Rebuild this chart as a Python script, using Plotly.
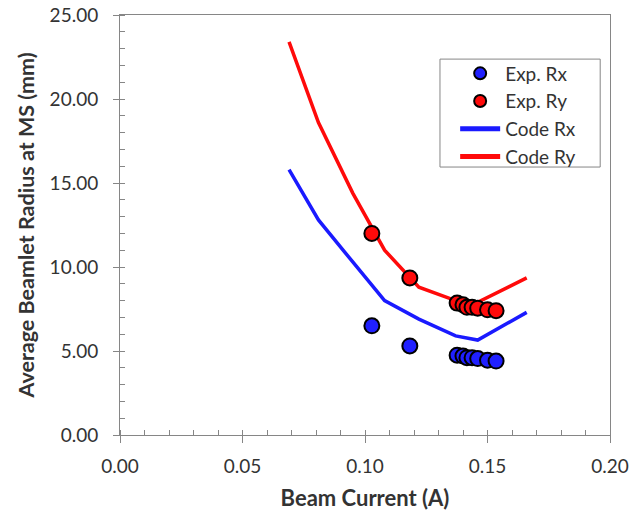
import plotly.graph_objects as go

# Experimental data
exp_current = [0.1028, 0.1183, 0.1376, 0.1400, 0.1416, 0.1437, 0.1460, 0.1500, 0.1535]
exp_rx = [6.50, 5.30, 4.75, 4.70, 4.60, 4.60, 4.55, 4.45, 4.40]
exp_ry = [12.00, 9.35, 7.85, 7.75, 7.60, 7.60, 7.55, 7.45, 7.40]

# Code (simulation) data
code_current = [0.069, 0.081, 0.095, 0.108, 0.122, 0.137, 0.146, 0.166]
code_rx = [15.8, 12.8, 10.3, 8.0, 6.9, 5.9, 5.65, 7.3]
code_ry = [23.4, 18.6, 14.4, 11.0, 8.8, 8.0, 7.9, 9.35]

FONT = "Lato"
TXT = "#333333"
AX = "#868686"

fig = go.Figure()

fig.add_trace(go.Scatter(x=code_current, y=code_rx, mode="lines", name="Code Rx",
                         line=dict(color="#1a1aff", width=3.5), legendrank=3))
fig.add_trace(go.Scatter(x=code_current, y=code_ry, mode="lines", name="Code Ry",
                         line=dict(color="#ff0a0a", width=3.5), legendrank=4))
fig.add_trace(go.Scatter(x=exp_current, y=exp_rx, mode="markers", name="Exp. Rx",
                         marker=dict(color="#2020ff", size=15, line=dict(color="black", width=2)),
                         legendrank=1))
fig.add_trace(go.Scatter(x=exp_current, y=exp_ry, mode="markers", name="Exp. Ry",
                         marker=dict(color="#ff0a0a", size=15, line=dict(color="black", width=2)),
                         legendrank=2))

fig.update_layout(
    width=630, height=512,
    margin=dict(l=120, r=20, t=15, b=77),
    paper_bgcolor="white", plot_bgcolor="white",
    font=dict(family=FONT, size=18, color=TXT),
    showlegend=True,
    legend=dict(x=0.684, y=0.906, xanchor="left", yanchor="top",
                borderwidth=0, bgcolor="rgba(0,0,0,0)",
                font=dict(family=FONT, size=19, color=TXT),
                itemwidth=40, itemsizing="constant"),
    shapes=[dict(type="rect", xref="paper", yref="paper",
                 x0=0.653, x1=0.98, y0=0.638, y1=0.895,
                 line=dict(color=AX, width=1), fillcolor="rgba(0,0,0,0)", layer="above")],
)

fig.update_xaxes(
    range=[0, 0.20], dtick=0.05, tickformat=".2f", automargin=False,
    showgrid=False, zeroline=False, ticklabeloverflow="allow",
    showline=True, linecolor=AX, linewidth=1, mirror=True,
    ticks="outside", ticklen=7, tickcolor=AX, ticklabelstandoff=7,
    minor=dict(dtick=0.01, ticks="inside", ticklen=5, tickcolor=AX, showgrid=False),
    tickfont=dict(family=FONT, size=19, color=TXT),
    title=dict(text="<b>Beam Current (A)</b>", font=dict(family=FONT, size=22, color=TXT), standoff=14),
)
fig.update_yaxes(
    range=[0, 25], dtick=5, tickformat=".2f", automargin=False,
    showgrid=False, zeroline=False, ticklabeloverflow="allow",
    showline=True, linecolor=AX, linewidth=1, mirror=True,
    ticks="outside", ticklen=6, tickcolor=AX, ticklabelstandoff=11,
    minor=dict(dtick=1, ticks="inside", ticklen=5, tickcolor=AX, showgrid=False),
    tickfont=dict(family=FONT, size=19, color=TXT),
    title=dict(text="<b>Average Beamlet Radius at MS (mm)</b>", font=dict(family=FONT, size=21.5, color=TXT), standoff=9),
)

# remove the default 8px page margin so the figure fills the window exactly
fig.write_html("out.html", config={"displayModeBar": False},
               post_script="document.body.style.margin='0';")
